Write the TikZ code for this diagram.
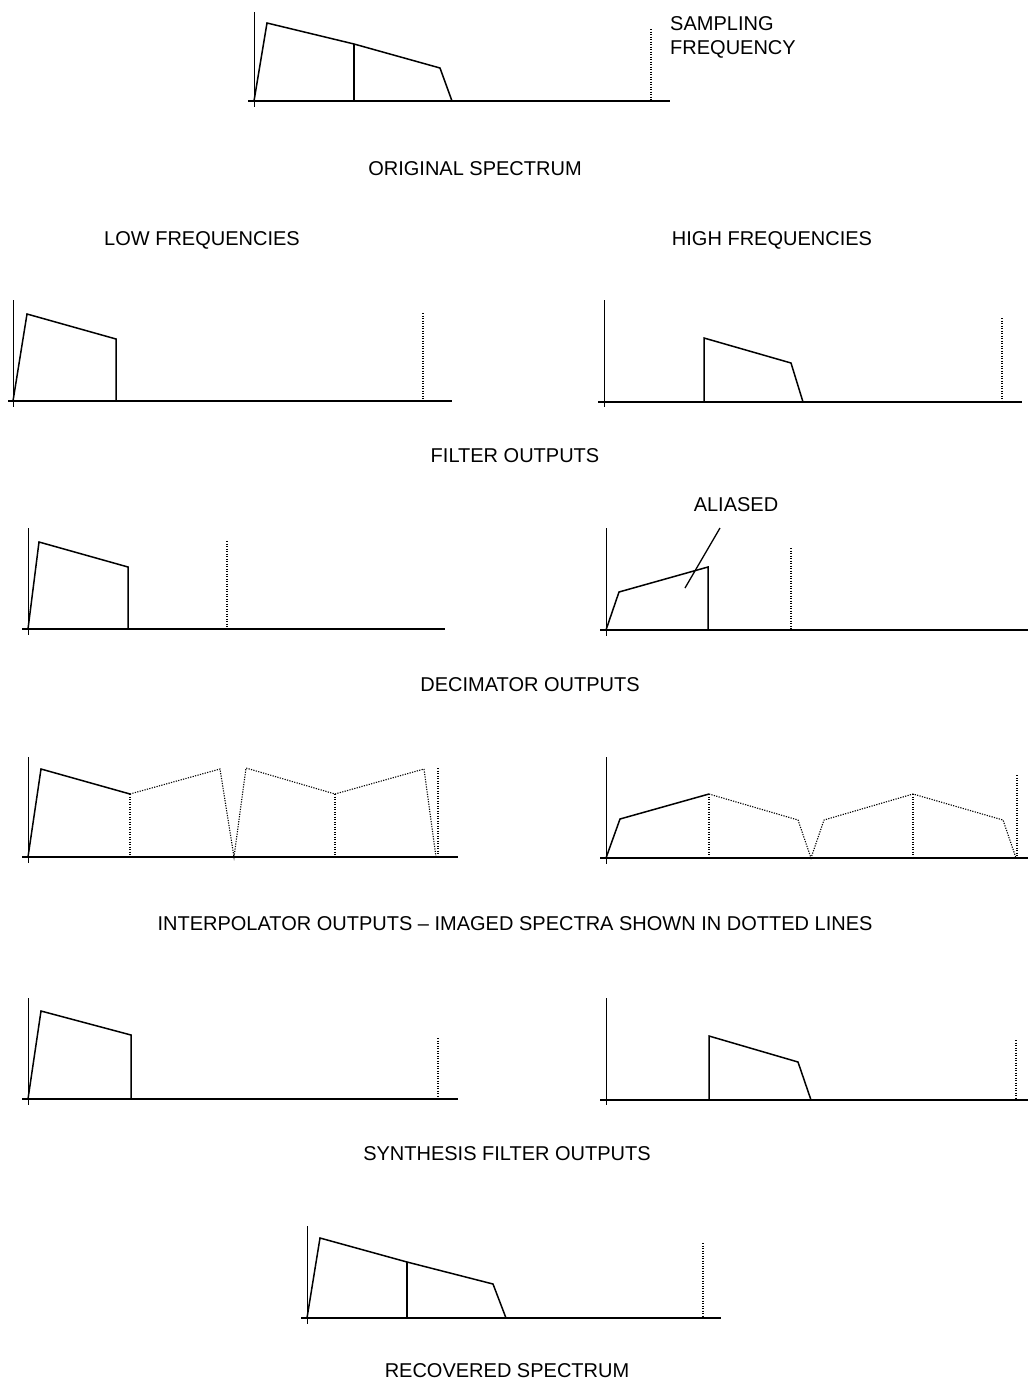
\documentclass[tikz,border=0pt]{standalone}
\usepackage{fontspec}
\setmainfont{Liberation Sans}
\begin{document}
\begin{tikzpicture}[x=1pt,y=-1pt,
  axis/.style={line width=1pt,black},
  base/.style={line width=1.4pt,black},
  spec/.style={line width=1.5pt,black,line join=miter},
  img/.style={line width=1.1pt,black,dash pattern=on 1.2pt off 1.3pt},
  lbl/.style={font=\fontsize{20}{24}\selectfont,inner sep=0pt,anchor=center},
  lbll/.style={font=\fontsize{20}{24}\selectfont,inner sep=0pt,anchor=west}]
\useasboundingbox (0,0) rectangle (1028,1385);

% ---------- original spectrum
\draw[axis] (254,12) -- (254,107);
\draw[base] (248,101) -- (670,101);
\draw[spec] (254,101) -- (267,23) -- (354,44) -- (440,68) -- (452,101);
\draw[spec,line width=1.2pt] (354,44) -- (354,101);
\draw[img] (651,29) -- (651,101);
\node[lbll] (samp) at (670,24) {SAMPLING};
\node[lbll] (freq) at (670,49) {FREQUENCY};
\node[lbl] (orig) at (475,169) {ORIGINAL SPECTRUM};

\node[lbl] (low) at (202,240) {LOW FREQUENCIES};
\node[lbl] (high) at (772,240) {HIGH FREQUENCIES};

% ---------- filter outputs
\draw[axis] (13,300) -- (13,407);
\draw[base] (8,401) -- (452,401);
\draw[spec] (13,401) -- (27,314) -- (116,339) -- (116,401);
\draw[img] (423,313) -- (423,401);

\draw[axis] (604,300) -- (604,407);
\draw[base] (598,402) -- (1022,402);
\draw[spec] (704,402) -- (704,338) -- (791,363) -- (803,402);
\draw[img] (1002,318) -- (1002,402);
\node[lbl] (filt) at (515,456) {FILTER OUTPUTS};

% ---------- decimator outputs
\draw[axis] (28,528) -- (28,635);
\draw[base] (22,629) -- (445,629);
\draw[spec] (28,629) -- (39,542) -- (128,567) -- (128,629);
\draw[img] (227,541) -- (227,629);

\draw[axis] (606,528) -- (606,636);
\draw[base] (600,630) -- (1028,630);
\draw[spec] (606,630) -- (619,592) -- (708,567) -- (708,630);
\draw[img] (791,548) -- (791,630);
\node[lbl] (alias) at (736,505) {ALIASED};
\coordinate (aliasend) at (685,588);
\draw[line width=1.3pt] (720,528) -- (aliasend);
\node[lbl] (deci) at (530,685) {DECIMATOR OUTPUTS};

% ---------- interpolator outputs
\draw[axis] (28,757) -- (28,863);
\draw[base] (22,857) -- (458,857);
\draw[spec] (28,857) -- (41,769) -- (130,794);
\draw[img] (130,794) -- (130,857);
\draw[img] (130,794) -- (220,769) -- (234,857) -- (246,768) -- (335,794) -- (424,769) -- (436,857);
\draw[img] (335,794) -- (335,857);
\draw[img] (438,768) -- (438,857);

\draw[axis] (606,757) -- (606,864);
\draw[base] (600,858) -- (1028,858);
\draw[spec] (606,858) -- (620,819) -- (709,794);
\draw[img] (709,794) -- (709,858);
\draw[img] (709,794) -- (798,820) -- (811,858) -- (824,820) -- (913,794) -- (1003,820) -- (1016,858);
\draw[img] (913,794) -- (913,858);
\draw[img] (1017,775) -- (1017,858);
\node[lbl] (interp) at (515,924) {INTERPOLATOR OUTPUTS -- IMAGED SPECTRA SHOWN IN DOTTED LINES};

% ---------- synthesis filter outputs
\draw[axis] (28,998) -- (28,1105);
\draw[base] (22,1099) -- (458,1099);
\draw[spec] (28,1099) -- (41,1011) -- (131,1035) -- (131,1099);
\draw[img] (438,1038) -- (438,1099);

\draw[axis] (606,998) -- (606,1105);
\draw[base] (600,1100) -- (1028,1100);
\draw[spec] (709,1100) -- (709,1036) -- (798,1062) -- (811,1100);
\draw[img] (1016,1040) -- (1016,1100);
\node[lbl] (synth) at (507,1154) {SYNTHESIS FILTER OUTPUTS};

% ---------- recovered spectrum
\draw[axis] (307,1226) -- (307,1324);
\draw[base] (301,1318) -- (721,1318);
\draw[spec] (307,1318) -- (320,1238) -- (407,1262) -- (493,1284) -- (506,1318);
\draw[spec,line width=1.2pt] (407,1262) -- (407,1318);
\draw[img] (703,1243) -- (703,1318);
\node[lbl] (recov) at (507,1371) {RECOVERED SPECTRUM};
\end{tikzpicture}
\end{document}
